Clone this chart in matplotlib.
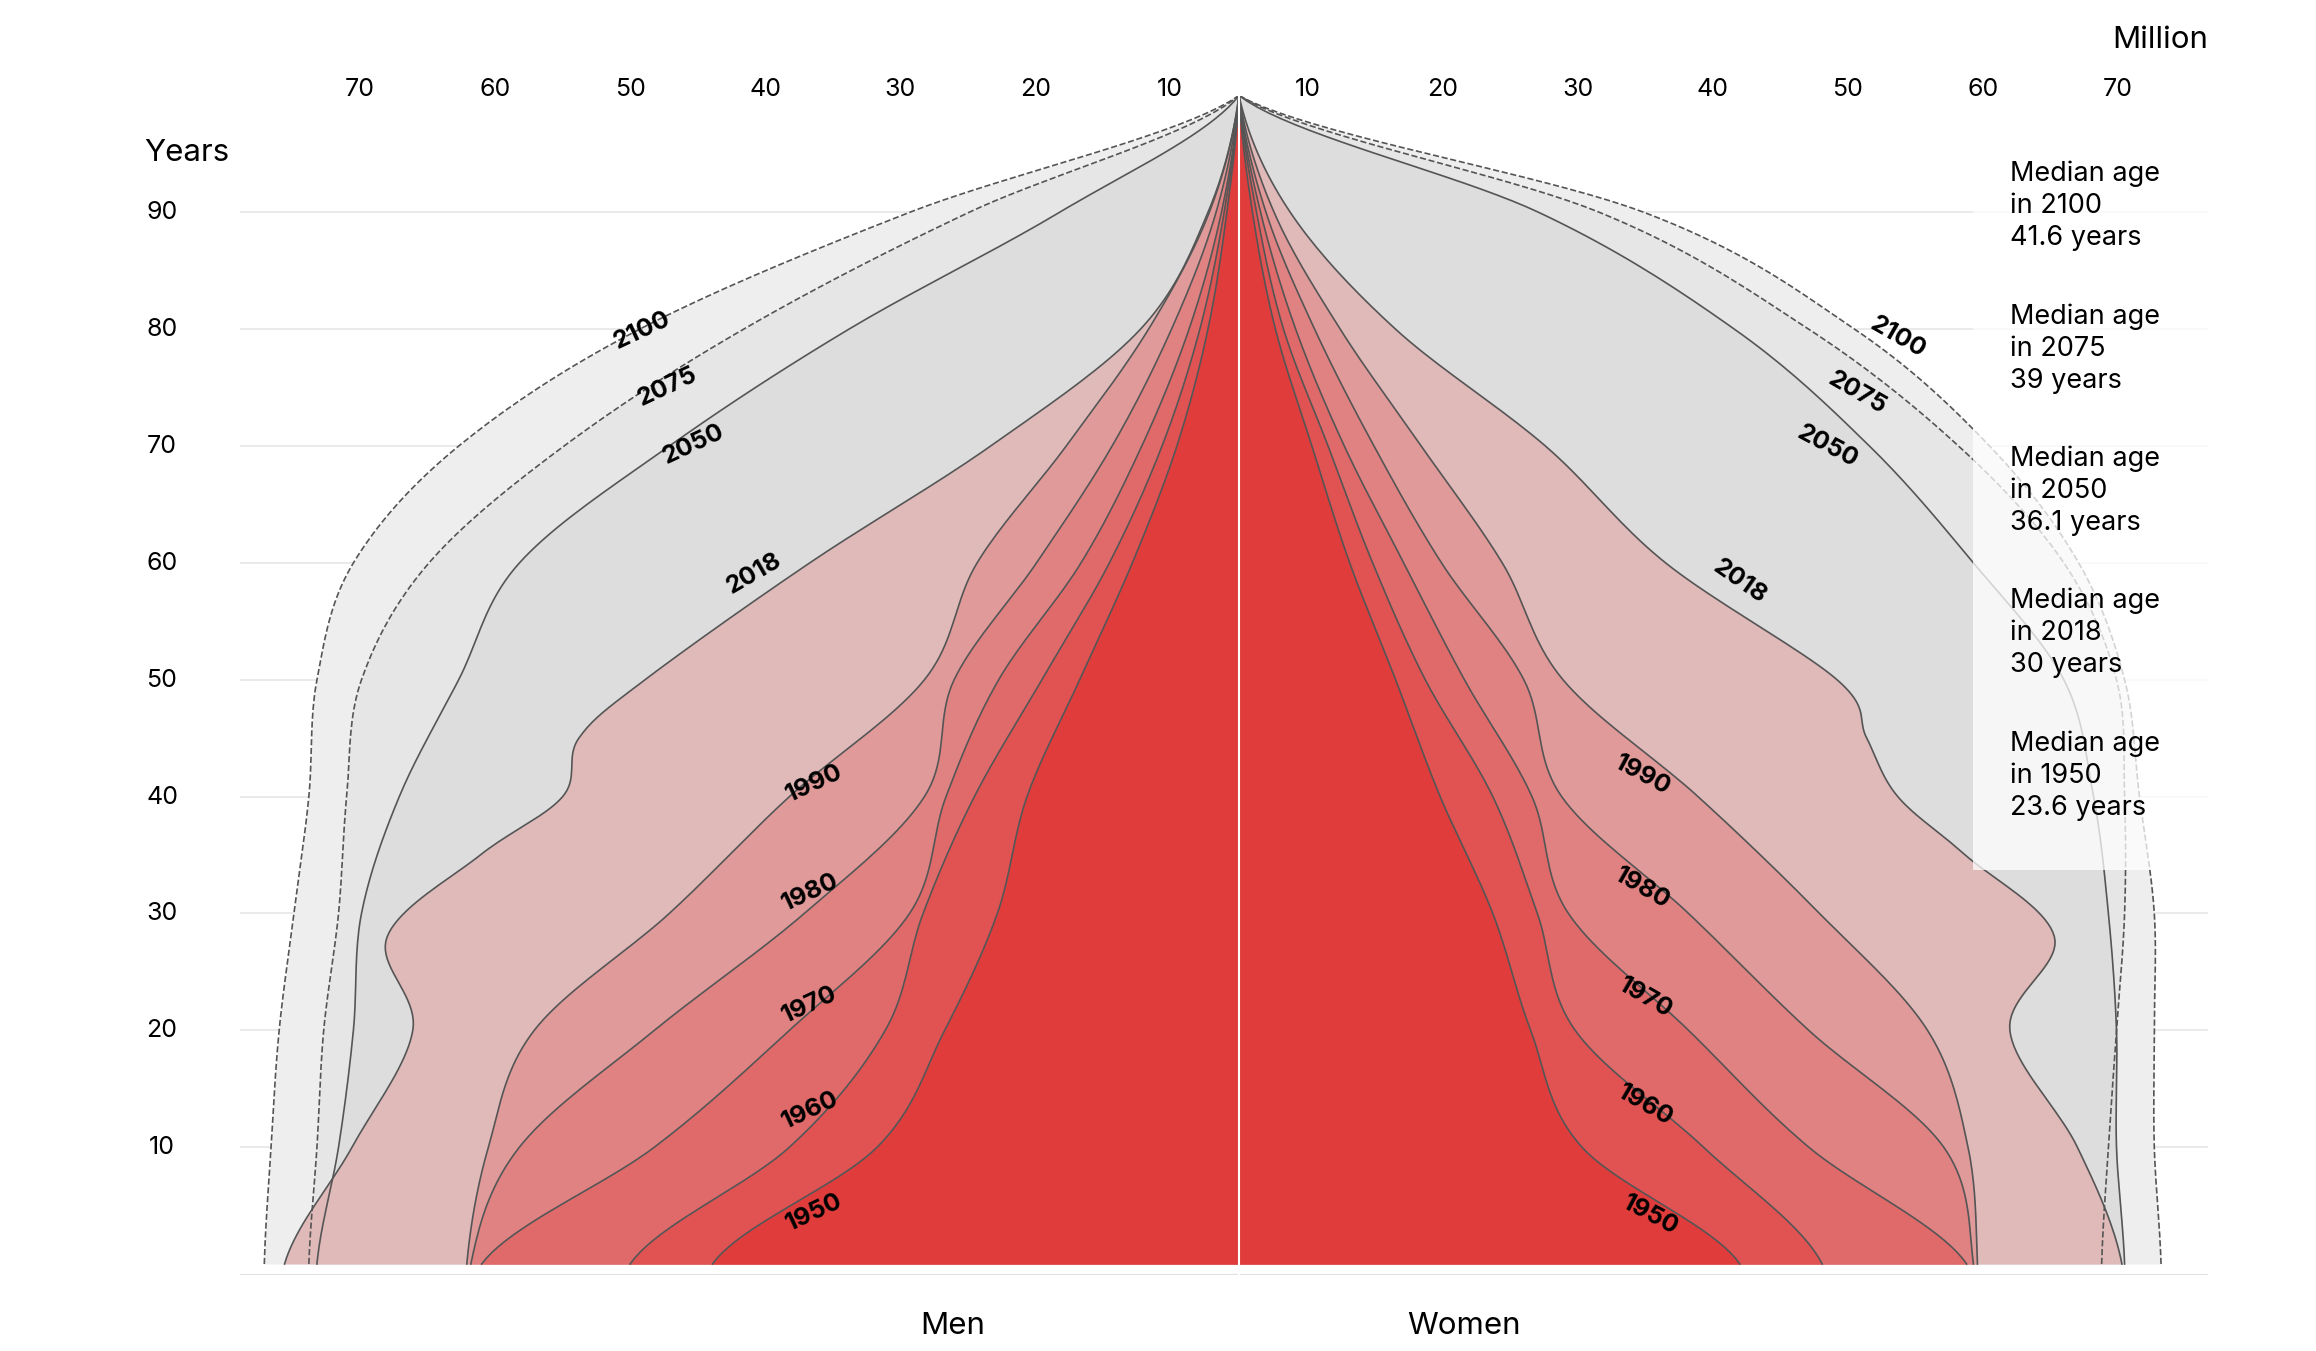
import numpy as np
import matplotlib.pyplot as plt

plt.rcParams['font.family'] = ['Inter', 'DejaVu Sans']

# population by age, million (men / women)
ages = [0, 10, 20, 30, 40, 50, 60, 70, 80, 90, 100]
ages_2018 = [0, 10, 20, 28, 35, 40, 45, 50, 60, 70, 80, 90, 100]

men = {
    "2100": [72.2, 71.7, 71.1, 70, 68.9, 68.3, 65.6, 57.8, 44.4, 24.4, 0],
    "2075": [68.9, 68.3, 67.8, 66.7, 66.1, 65, 60, 50, 36.7, 20, 0],
    "2050": [68.3, 66.7, 65.6, 65, 62.2, 57.8, 53.3, 42.2, 28.9, 13.3, 0],
    "2018": [70.7, 65.7, 61.2, 63.1, 56.2, 50.1, 48.9, 44, 31.8, 18.4, 7.3, 2.3, 0],
    "1990": [57.2, 55.6, 52.2, 42.2, 33.3, 23.3, 19.4, 12.8, 6.7, 2.2, 0],
    "1980": [56.9, 53.3, 43.3, 32.2, 23.3, 21.1, 15, 9.4, 5, 1.7, 0],
    "1970": [56.1, 43.3, 33.3, 24.4, 21.7, 17.8, 11.7, 7.2, 3.7, 1.3, 0],
    "1960": [45.1, 33.3, 26.2, 23.4, 19.6, 14.6, 9.6, 5.7, 2.9, 1.1, 0],
    "1950": [39, 26.8, 21.8, 17.9, 15.7, 11.8, 7.9, 4.6, 2.3, 0.9, 0],
}
women = {
    "2100": [68.3, 67.8, 67.8, 67.8, 66.7, 65.6, 62.2, 55.6, 45.6, 30, 0],
    "2075": [63.9, 64.4, 65, 65.6, 65.6, 65, 61.1, 53.3, 42.2, 26.7, 0],
    "2050": [65.6, 65, 65, 64.4, 63.3, 61.1, 54.4, 46.7, 36.7, 22.2, 0],
    "2018": [65.4, 62.1, 57.1, 60.4, 53.8, 48.8, 46.5, 44.3, 31.6, 22.7, 11.6, 3.8, 0],
    "1990": [54.7, 54, 51, 43, 34, 24, 19.5, 13.5, 7.5, 2.6, 0],
    "1980": [54.4, 52.2, 42.2, 33.3, 23.9, 21.1, 15, 10, 5.6, 2, 0],
    "1970": [53.9, 42.2, 33.3, 24.4, 21.7, 16.7, 12.2, 7.8, 4.2, 1.6, 0],
    "1960": [43.2, 34.4, 24.9, 22.1, 18.8, 13.8, 9.9, 6.6, 3.3, 1.3, 0],
    "1950": [37.1, 25.4, 21.6, 18.8, 14.9, 11.6, 8.2, 5.4, 2.7, 1, 0],
}
colors = {"2100": "#eeeeee", "2075": "#e6e6e6", "2050": "#dddddd", "2018": "#e0b9b9",
          "1990": "#e09a9a", "1980": "#e08282", "1970": "#e06a6a", "1960": "#e15252",
          "1950": "#e03c3c"}
median_years = ["2100", "2075", "2050", "2018", "1950"]
median_ages = ["41.6", "39", "36.1", "30", "23.6"]
tick_vals = [10, 20, 30, 40, 50, 60, 70]


def smooth(a, v, n=20):
    # catmull-rom for drawing smooth outlines
    a = np.array(a, float); v = np.array(v, float)
    pa = np.r_[a[0] - (a[1] - a[0]), a, a[-1] + (a[-1] - a[-2])]
    pv = np.r_[v[0], v, v[-1]]
    xs, ys = [], []
    for i in range(1, len(pa) - 2):
        t = np.linspace(0, 1, n, endpoint=False)
        for p, out in ((pa, xs), (pv, ys)):
            p0, p1, p2, p3 = p[i - 1], p[i], p[i + 1], p[i + 2]
            out.extend(0.5 * (2 * p1 + (-p0 + p2) * t + (2 * p0 - 5 * p1 + 4 * p2 - p3) * t**2
                              + (-p0 + 3 * p1 - 3 * p2 + p3) * t**3))
    xs.append(a[-1]); ys.append(v[-1])
    return np.array(xs), np.array(ys)


W, H = 1544, 901
fig = plt.figure(figsize=(15.44, 9.01), dpi=150)
ax = fig.add_axes([160 / W, 1 - 850 / H, (1472 - 160) / W, (850 - 64) / H])
ax.set_xlim((160 - 826) / 9, (1472 - 826) / 9)
ax.set_ylim(-0.9, 100)
for s in ax.spines.values():
    s.set_visible(False)
ax.set_xticks([]); ax.set_yticks([])
for g in range(10, 100, 10):
    ax.axhline(g, color="#e6e6e6", lw=0.8, zorder=0)
ax.axhline(-0.9, color="#e0e0e0", lw=1, zorder=0)

for yr in men:
    a = ages_2018 if yr == "2018" else ages
    ya, xm = smooth(a, men[yr])
    _, xw = smooth(a, women[yr])
    ax.fill_betweenx(ya, -xm, xw, color=colors[yr], lw=0, zorder=1)
    ls = "--" if yr in ("2100", "2075") else "-"
    lc = "#555555"
    ax.plot(-xm, ya, ls=ls, color=lc, lw=0.8, zorder=2)
    ax.plot(xw, ya, ls=ls, color=lc, lw=0.8, zorder=2)
ax.axvline(0, color="white", lw=1, zorder=3)

# year labels
lab_l = {"2100": (428, 220, 25), "2075": (445, 258, 25), "2050": (462, 296, 25),
         "2018": (503, 382, 30), "1990": (543, 522, 25), "1980": (540, 595, 25),
         "1970": (540, 670, 25), "1960": (540, 740, 25), "1950": (543, 808, 25)}
lab_r = {"2100": (1265, 225, -30), "2075": (1238, 262, -30), "2050": (1218, 298, -28),
         "2018": (1160, 388, -35), "1990": (1095, 517, -28), "1980": (1095, 592, -30),
         "1970": (1097, 665, -30), "1960": (1097, 737, -30), "1950": (1100, 810, -28)}
for d in (lab_l, lab_r):
    for yr, (px, py, r) in d.items():
        fig.text(px / W, 1 - py / H, yr, rotation=r, ha="center", va="center",
                 fontsize=12, fontweight="bold", zorder=5)

# axis ticks
for v in tick_vals:
    for sgn in (-1, 1):
        px = 826 + sgn * (v - 4.9) * 9
        fig.text(px / W, 1 - 60 / H, str(v), ha="center", va="center", fontsize=12)
for g in range(10, 100, 10):
    fig.text(108 / W, 1 - (843 - 7.79 * g) / H, str(g), ha="center", va="center", fontsize=12)
fig.text(96 / W, 1 - 102 / H, "Years", ha="left", va="center", fontsize=15)
fig.text(1472 / W, 1 - 27 / H, "Million", ha="right", va="center", fontsize=15)
fig.text(635 / W, 1 - 884 / H, "Men", ha="center", va="center", fontsize=15)
fig.text(976 / W, 1 - 884 / H, "Women", ha="center", va="center", fontsize=15)

# median age panel
fig.patches.append(plt.Rectangle((1315 / W, 1 - 580 / H), 160 / W, 480 / H,
                                 transform=fig.transFigure, color="white", alpha=0.75,
                                 lw=0, zorder=4))
for i, (yr, m) in enumerate(zip(median_years, median_ages)):
    fig.text(1340 / W, 1 - (107 + 95 * i) / H, f"Median age\nin {yr}\n{m} years",
             ha="left", va="top", fontsize=13, linespacing=1.3, zorder=5)

fig.savefig("out.png", dpi=150)
